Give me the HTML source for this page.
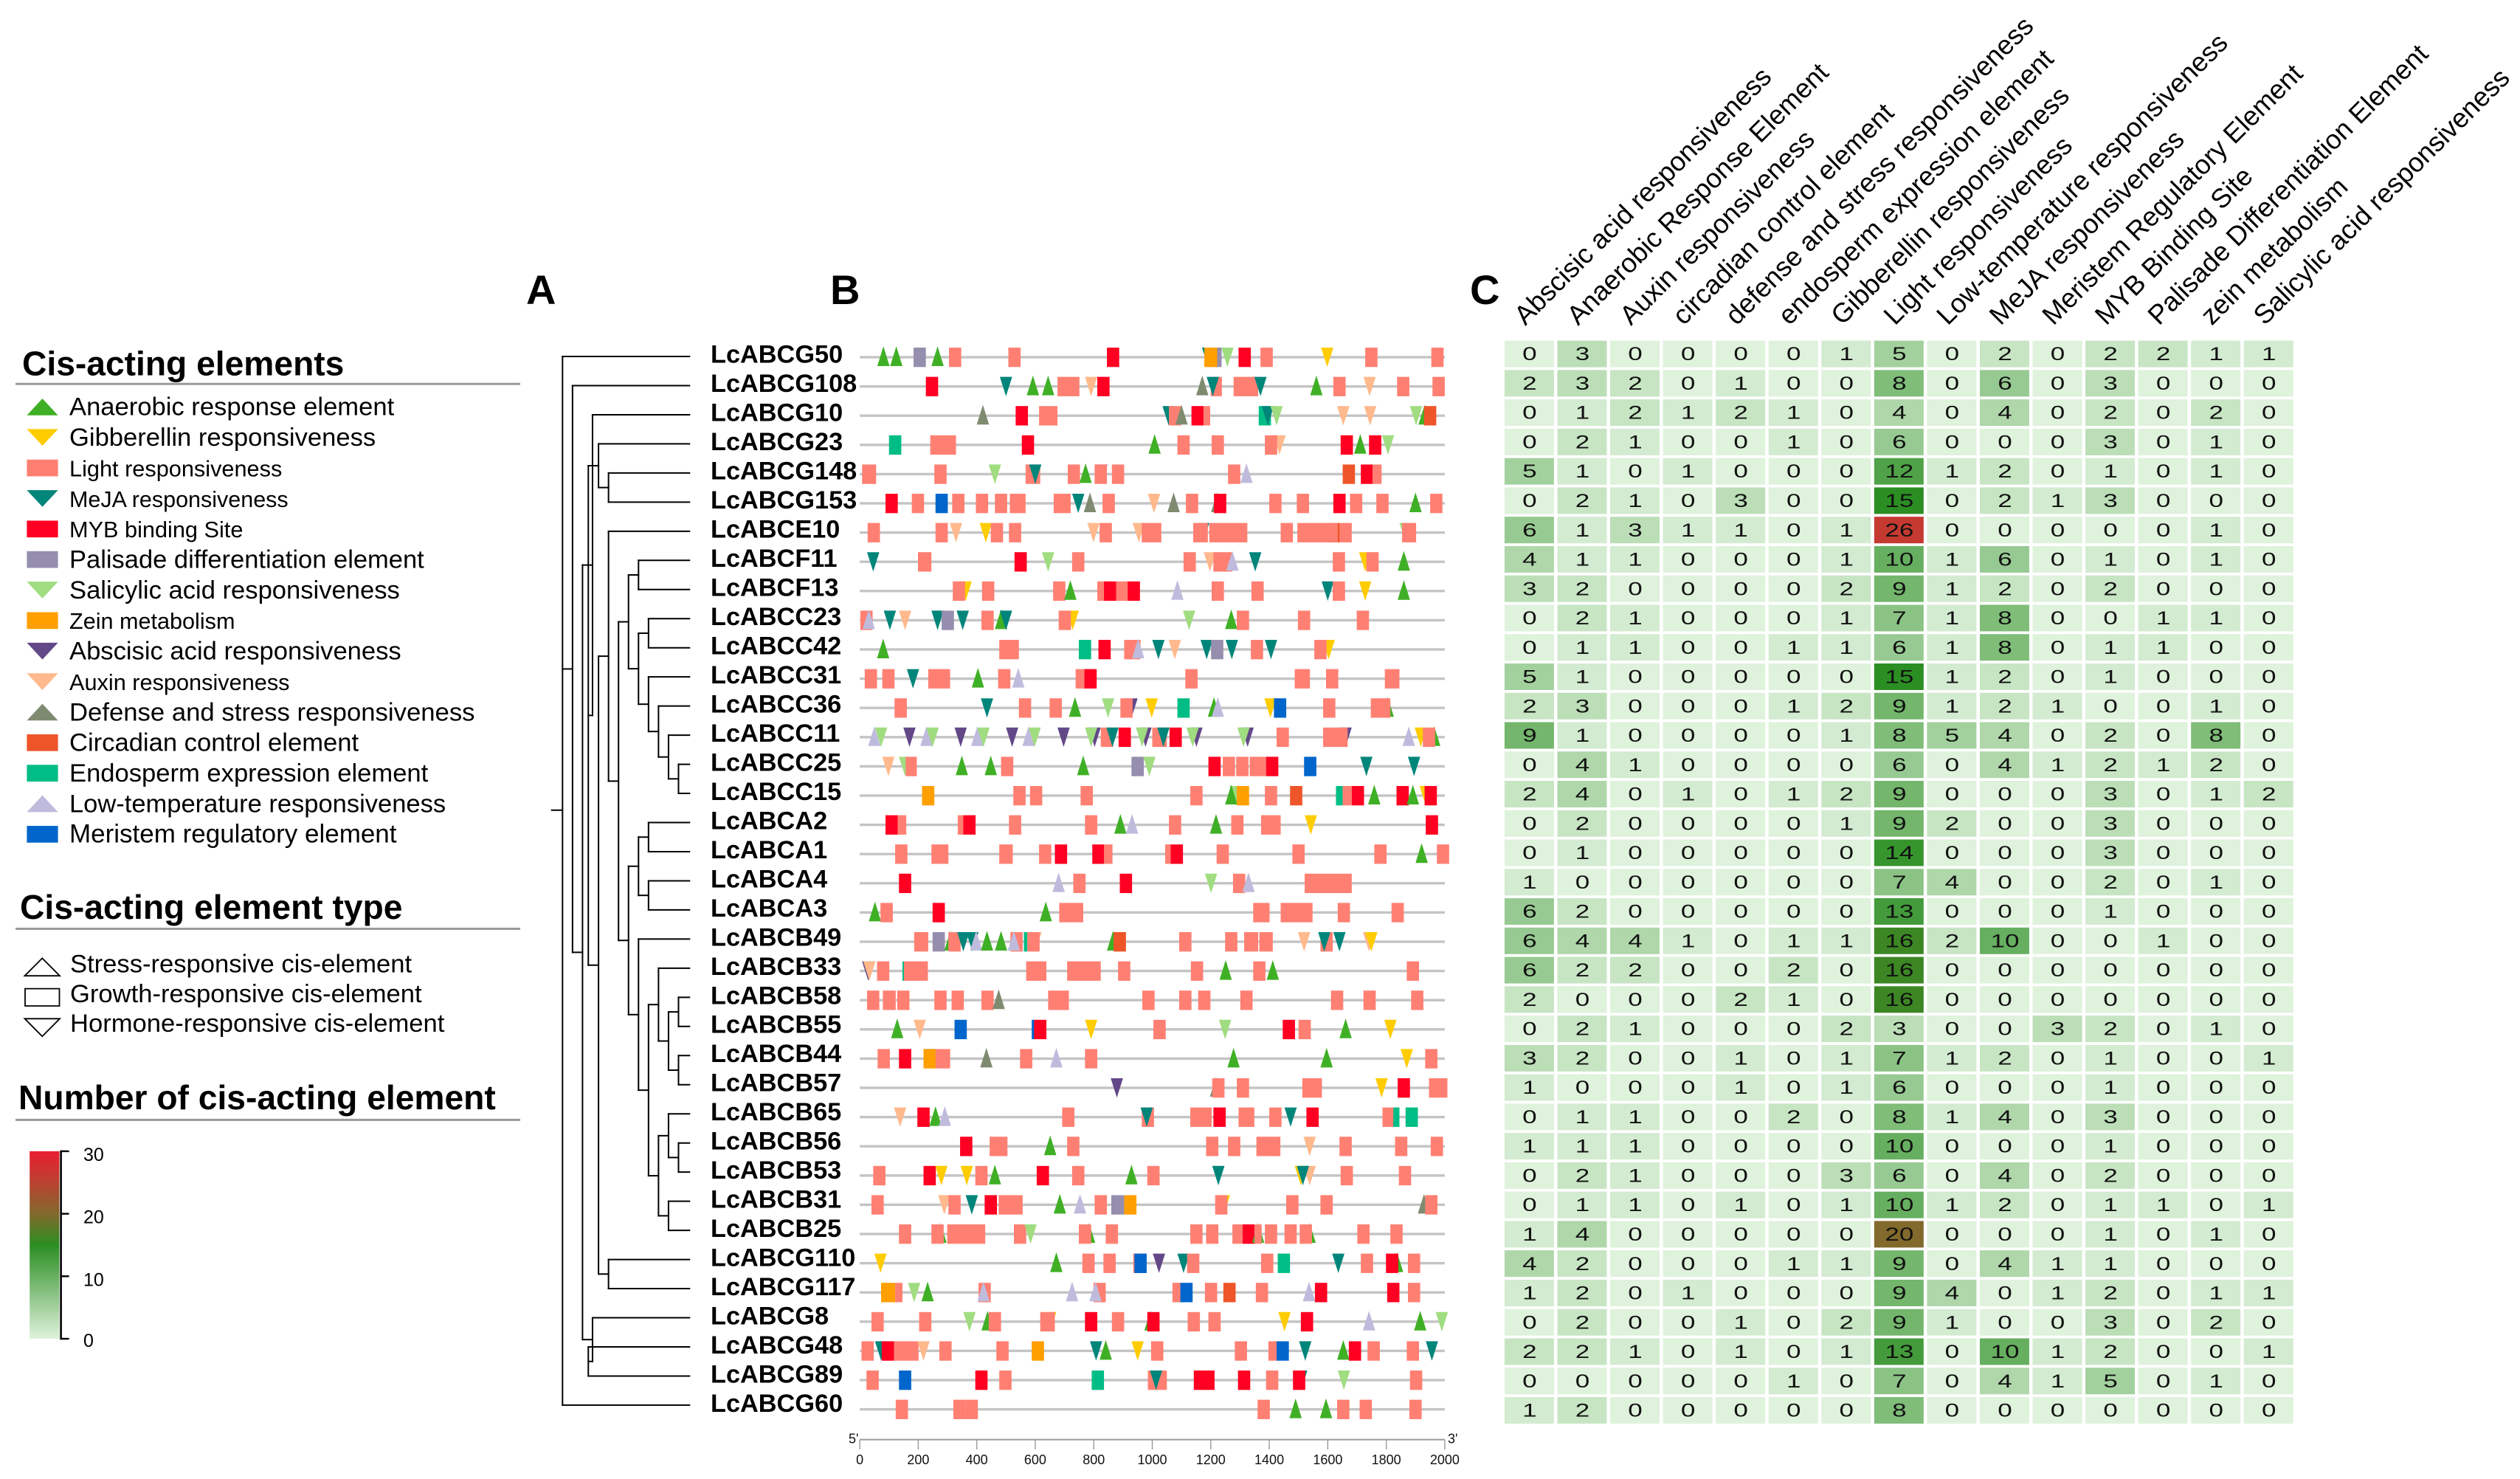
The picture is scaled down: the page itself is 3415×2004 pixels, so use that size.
<!DOCTYPE html>
<html lang="en">
<head>
<meta charset="utf-8">
<title>Cis-acting elements of LcABC genes</title>
<style>
html,body{margin:0;padding:0;background:#fff;}
svg{display:block;font-family:"Liberation Sans",Arial,sans-serif;}
</style>
</head>
<body>
<svg id="figure" xmlns="http://www.w3.org/2000/svg" width="3415" height="2004" viewBox="0 0 3415 2004">
<rect x="0" y="0" width="3415" height="2004" fill="#ffffff"/>
<defs><linearGradient id="scaleGrad" x1="0" y1="1" x2="0" y2="0"></linearGradient></defs>
</svg>
<script>
// ---------- Data ----------
const geneNames = ["LcABCG50","LcABCG108","LcABCG10","LcABCG23","LcABCG148","LcABCG153","LcABCE10","LcABCF11","LcABCF13","LcABCC23","LcABCC42","LcABCC31","LcABCC36","LcABCC11","LcABCC25","LcABCC15","LcABCA2","LcABCA1","LcABCA4","LcABCA3","LcABCB49","LcABCB33","LcABCB58","LcABCB55","LcABCB44","LcABCB57","LcABCB65","LcABCB56","LcABCB53","LcABCB31","LcABCB25","LcABCG110","LcABCG117","LcABCG8","LcABCG48","LcABCG89","LcABCG60"];

const columnLabels = ["Abscisic acid responsiveness","Anaerobic Response Element","Auxin responsiveness","circadian control element","defense and stress responsiveness","endosperm expression element","Gibberellin responsiveness","Light responsiveness","Low-temperature responsiveness","MeJA responsiveness","Meristem Regulatory Element","MYB Binding Site","Palisade Differentiation Element","zein metabolism","Salicylic acid responsiveness"];

const heatValues = [
[0,3,0,0,0,0,1,5,0,2,0,2,2,1,1],
[2,3,2,0,1,0,0,8,0,6,0,3,0,0,0],
[0,1,2,1,2,1,0,4,0,4,0,2,0,2,0],
[0,2,1,0,0,1,0,6,0,0,0,3,0,1,0],
[5,1,0,1,0,0,0,12,1,2,0,1,0,1,0],
[0,2,1,0,3,0,0,15,0,2,1,3,0,0,0],
[6,1,3,1,1,0,1,26,0,0,0,0,0,1,0],
[4,1,1,0,0,0,1,10,1,6,0,1,0,1,0],
[3,2,0,0,0,0,2,9,1,2,0,2,0,0,0],
[0,2,1,0,0,0,1,7,1,8,0,0,1,1,0],
[0,1,1,0,0,1,1,6,1,8,0,1,1,0,0],
[5,1,0,0,0,0,0,15,1,2,0,1,0,0,0],
[2,3,0,0,0,1,2,9,1,2,1,0,0,1,0],
[9,1,0,0,0,0,1,8,5,4,0,2,0,8,0],
[0,4,1,0,0,0,0,6,0,4,1,2,1,2,0],
[2,4,0,1,0,1,2,9,0,0,0,3,0,1,2],
[0,2,0,0,0,0,1,9,2,0,0,3,0,0,0],
[0,1,0,0,0,0,0,14,0,0,0,3,0,0,0],
[1,0,0,0,0,0,0,7,4,0,0,2,0,1,0],
[6,2,0,0,0,0,0,13,0,0,0,1,0,0,0],
[6,4,4,1,0,1,1,16,2,10,0,0,1,0,0],
[6,2,2,0,0,2,0,16,0,0,0,0,0,0,0],
[2,0,0,0,2,1,0,16,0,0,0,0,0,0,0],
[0,2,1,0,0,0,2,3,0,0,3,2,0,1,0],
[3,2,0,0,1,0,1,7,1,2,0,1,0,0,1],
[1,0,0,0,1,0,1,6,0,0,0,1,0,0,0],
[0,1,1,0,0,2,0,8,1,4,0,3,0,0,0],
[1,1,1,0,0,0,0,10,0,0,0,1,0,0,0],
[0,2,1,0,0,0,3,6,0,4,0,2,0,0,0],
[0,1,1,0,1,0,1,10,1,2,0,1,1,0,1],
[1,4,0,0,0,0,0,20,0,0,0,1,0,1,0],
[4,2,0,0,0,1,1,9,0,4,1,1,0,0,0],
[1,2,0,1,0,0,0,9,4,0,1,2,0,1,1],
[0,2,0,0,1,0,2,9,1,0,0,3,0,2,0],
[2,2,1,0,1,0,1,13,0,10,1,2,0,0,1],
[0,0,0,0,0,1,0,7,0,4,1,5,0,1,0],
[1,2,0,0,0,0,0,8,0,0,0,0,0,0,0]
];

const scaleValues = [0,15,20,26,30];
const scaleColors = ["#dff2dc","#2b8e22","#82692c","#c43a30","#e81e30"];
const scaleTicks = [0,10,20,30];
const rulerTicks = [0,200,400,600,800,1000,1200,1400,1600,1800,2000];

// Motif entries: [type code, start in bp, length in bp (default 42)]
const rowG50=[['A',60],['A',104],['P',184],['A',245],['L',305],['L',508],['M',845],['J',1170],['P',1195],['Z',1178,44],['S',1236],['M',1295],['L',1370],['G',1577],['L',1728],['L',1954]];
const rowG108=[['M',226],['J',479],['A',571],['A',623],['L',676,75],['X',770],['M',812],['D',1150],['L',1200,38],['J',1186],['L',1278,84],['J',1349],['A',1540],['L',1619],['X',1722],['L',1837],['L',1958]];
const rowG10=[['D',400],['M',533],['L',613,63],['J',1035],['L',1057],['D',1079],['M',1134],['L',1175,23],['E',1364],['J',1374],['S',1404],['X',1632],['X',1724],['S',1881],['A',1910],['C',1929]];
const rowG23=[['E',100],['L',241,88],['M',554],['A',987],['L',1086],['L',1203],['X',1414],['L',1385],['M',1644],['A',1690],['M',1741],['S',1785]];
const rowG148=[['L',8,48],['L',255],['S',441],['L',567,50],['J',579],['L',711],['A',751],['B',805],['L',803],['L',862],['L',1259],['T',1301],['C',1651],['M',1713],['L',1753,31]];
const rowG153=[['M',88],['L',178],['R',259],['L',316],['L',397],['L',462],['L',513,54],['L',663,58],['J',726],['D',766],['L',830],['X',985],['D',1052],['L',1115],['D',1201],['M',1211],['L',1400],['L',1494],['M',1619],['L',1676],['L',1766],['A',1879],['L',1950]];
const rowE10=[['L',27],['L',259],['X',308],['G',410],['L',448],['L',510],['X',778],['L',820],['X',933],['L',964,67],['J',1153],['L',1140,50],['L',1195,130],['L',1439],['C',1600],['L',1496,138],['L',1640],['S',1845],['L',1854,48]];
const rowF11=[['J',25],['L',199,46],['M',529],['S',623],['L',726],['L',1107],['X',1176],['L',1209,65],['T',1253],['J',1331],['L',1617],['G',1707],['L',1732],['A',1839]];
const rowF13=[['G',341],['L',318],['L',418],['L',661],['A',699],['L',812],['M',835],['L',877],['M',916],['T',1065],['L',1203],['L',1339],['J',1579],['L',1617],['G',1707],['A',1839]];
const rowC23=[['L',2],['T',10],['J',82],['X',134],['J',245],['P',280],['J',331],['L',416],['A',462],['J',479],['G',707],['L',680],['S',1105],['A',1249],['L',1289],['L',1498],['L',1699]];
const rowC42=[['A',59],['L',477,67],['E',749],['M',816],['L',904,56],['T',931],['J',1000],['X',1056],['J',1165],['P',1201],['J',1251],['L',1337],['J',1385],['G',1582],['L',1554]];
const rowC31=[['L',17],['L',77],['J',161],['L',234,75],['A',383],['L',473],['T',521],['L',738],['M',768],['L',1113],['L',1487,52],['L',1594],['L',1795,50]];
const rowC36=[['L',119],['J',414],['L',544],['L',649],['A',715],['S',828],['B',908],['L',891],['G',977],['E',1086],['A',1190],['T',1203],['G',1383],['R',1416],['L',1584],['A',1784],['L',1747,67]];
const rowC11=[['T',29],['S',52],['B',149],['T',207],['S',228],['B',324],['T',381],['S',402],['B',500],['T',556],['S',577],['B',676],['B',782],['S',770],['L',824],['J',843],['M',885],['B',956],['S',944],['L',1000,50],['J',1017],['M',1059],['B',1130],['S',1117],['B',1305],['S',1291],['L',1425],['B',1640],['L',1584,84],['T',1856],['G',1897],['A',1943],['L',1925]];
const rowC25=[['X',77],['S',134],['L',157,38],['A',328],['A',427],['L',483],['A',743],['P',929],['S',969],['M',1192],['L',1241],['L',1287],['L',1333,56],['M',1389],['R',1519],['J',1711],['J',1874]];
const rowC15=[['Z',213],['L',525],['L',582],['L',755],['L',1130],['S',1264],['A',1249],['Z',1289],['L',1385],['C',1471],['E',1628,23],['L',1651,31],['M',1682],['A',1738],['M',1835],['A',1870],['G',1914],['M',1931]];
const rowA2=[['M',88],['L',130,29],['L',335,20],['M',354],['L',510],['L',770],['A',870],['T',910],['L',1057],['A',1197],['L',1270],['L',1372,67],['G',1521],['M',1935]];
const rowA1=[['L',121],['L',245,58],['L',477,46],['L',613],['M',667],['M',795],['L',835,29],['L',1044,20],['M',1063],['L',1220],['L',1479],['L',1759],['A',1900],['L',1973]];
const rowA4=[['M',134],['T',659],['L',730],['M',889],['S',1180],['L',1276],['T',1308],['L',1521,161]];
const rowA3=[['A',31],['L',71],['M',249],['A',615],['L',682],['L',722],['L',1345,56],['L',1439,109],['L',1634],['L',1818]];
const rowB49=[['L',186,48],['P',249],['A',289],['L',303],['J',333],['J',364],['T',377],['A',414],['A',462],['L',515],['T',506],['X',580],['E',561,12],['L',573],['A',845],['C',868],['L',1092],['L',1249],['L',1314,48],['L',1366,46],['X',1498],['L',1575],['J',1567],['J',1619],['X',1720],['G',1728]];
const rowB33=[['B',8],['X',12],['L',59],['E',146,6],['L',151,82],['L',569,69],['L',709,115],['L',883],['L',1132],['A',1230],['L',1345],['A',1391],['L',1870]];
const rowB58=[['L',25],['L',79,44],['L',128],['L',255],['L',314],['L',416],['D',454],['L',644,71],['L',966],['L',1092],['L',1157],['L',1301],['L',1611],['L',1722],['L',1885]];
const rowB55=[['A',107],['X',184],['R',324],['R',588,10],['M',596],['G',770],['L',1004],['S',1228],['M',1446],['L',1500],['A',1640],['G',1793]];
const rowB44=[['L',61],['M',134],['J',220],['Z',218],['L',259,50],['D',412],['L',548],['T',651],['L',770],['A',1257],['A',1575],['G',1849],['L',1933]];
const rowB57=[['B',858],['D',1197],['L',1205],['L',1289],['L',1513,67],['G',1763],['M',1839],['L',1946,63]];
const rowB65=[['X',117],['M',197],['A',238],['T',270],['L',692],['L',964],['J',960],['L',1130,73],['M',1209],['L',1295,54],['L',1400],['J',1452],['M',1527],['L',1787],['E',1824,21],['E',1866]];
const rowB56=[['M',343],['L',444,61],['A',630],['L',709],['L',1184],['L',1259],['L',1356,82],['X',1517],['L',1640],['L',1830],['L',1952]];
const rowB53=[['L',46],['M',218],['G',258],['G',345],['L',395],['A',441],['M',605],['L',726],['A',908],['L',983],['J',1205],['G',1487],['X',1517],['J',1494],['L',1644],['L',1843]];
const rowB31=[['L',40],['X',268],['L',303],['J',362],['M',427],['L',475,82],['A',663],['T',732],['L',803],['P',860,44],['Z',904],['G',1224],['L',1215],['L',1458],['L',1575],['D',1908],['L',1933]];
const rowB25=[['L',134],['A',255],['L',245],['L',299,130],['L',527],['S',563],['A',763],['L',749],['L',841],['L',1130],['L',1184],['L',1274,33],['M',1308],['A',1341],['L',1349,25],['L',1385],['A',1517],['L',1452],['L',1504],['L',1701],['L',1814]];
const rowG110=[['G',50],['A',651],['L',761],['L',833],['L',935],['R',939],['B',1002],['J',1086],['L',1119],['L',1372],['E',1429],['J',1615],['L',1713],['A',1816],['M',1799],['L',1874]];
const rowG117=[['Z',73,48],['L',121,25],['S',165],['A',211],['L',406],['T',402],['T',705],['L',799],['T',785],['L',1069,29],['R',1096],['L',1180],['C',1243],['L',1354],['T',1515],['M',1556],['M',1803],['L',1874]];
const rowG8=[['L',40],['L',203],['S',354],['A',416],['L',441],['G',630],['L',617,50],['M',770],['L',862],['A',973],['M',983],['L',1121],['L',1192],['G',1431],['M',1508],['T',1720],['A',1895],['S',1969]];
const rowG48=[['L',6],['J',52],['M',75],['L',117,84],['X',197],['L',272],['L',467],['Z',588],['J',787],['A',820],['G',929],['L',996],['L',1282],['L',1397,29],['R',1425],['J',1502],['A',1632],['M',1672],['L',1736],['L',1870],['J',1935]];
const rowG89=[['L',23],['R',134],['M',395],['L',477],['E',793],['L',985,65],['J',992],['M',1142,71],['M',1293],['L',1389],['J',1488],['M',1481],['S',1634],['L',1881]];
const rowG60=[['L',123],['L',320],['L',362],['L',1360],['A',1469],['A',1573],['L',1632],['L',1709],['L',1879]];
const motifRows=[rowG50,rowG108,rowG10,rowG23,rowG148,rowG153,rowE10,rowF11,rowF13,rowC23,rowC42,rowC31,rowC36,rowC11,rowC25,rowC15,rowA2,rowA1,rowA4,rowA3,rowB49,rowB33,rowB58,rowB55,rowB44,rowB57,rowB65,rowB56,rowB53,rowB31,rowB25,rowG110,rowG117,rowG8,rowG48,rowG89,rowG60];

// Tree: [branch depth, child, child, ...]; a number child is an index into geneNames
const cladeA=[3.6,3,[4.6,4,5]];
const cladeF=[7.6,7,8];
const cladeC=[7.6,[8.6,9,10],[8.6,11,[9.6,12,[10.6,13,[11.6,14,15]]]]];
const cladeCF=[6.6,cladeF,cladeC];
const cladeABCA=[7.6,[8.6,16,17],[8.6,18,19]];
const cladeB1=[9.6,21,[10.6,[11.6,22,23],[11.6,24,25]]];
const cladeB2=[9.6,[10.6,26,[11.6,27,28]],[10.6,29,30]];
const cladeB=[6.6,cladeABCA,[7.6,20,[8.6,cladeB1,cladeB2]]];
const cladeBig=[3.6,[4.6,6,[5.6,cladeCF,cladeB]],[4.6,31,32]];
const cladeLeft=[3,2,[2.58,cladeA,cladeBig]];
const cladeRight=[3,33,[2.58,34,35]];
const treeRoot=[0,0,[1,1,[2,cladeLeft,cladeRight]],36];

// Legend text and type codes
const motifCodes=['A','G','L','J','M','P','S','Z','B','X','D','C','E','T','R'];
const motifLabels=["Anaerobic response element","Gibberellin responsiveness","Light responsiveness","MeJA responsiveness","MYB binding Site","Palisade differentiation element","Salicylic acid responsiveness","Zein metabolism","Abscisic acid responsiveness","Auxin responsiveness","Defense and stress responsiveness","Circadian control element","Endosperm expression element","Low-temperature responsiveness","Meristem regulatory element"];
const motifLabelSizes=[34.6,34.6,30.7,30.5,30.7,34.5,34.6,30.6,34.6,30.7,34.7,34.6,34.6,34.5,35];
const motifColors={A:'#3fb025',G:'#ffcc00',L:'#ff8073',J:'#00857a',M:'#ff0022',P:'#958eae',S:'#a0dc80',Z:'#ff9f00',B:'#634888',X:'#ffb98c',D:'#7f8b70',C:'#ee5528',E:'#00bd85',T:'#bfbbdd',R:'#0066cc'};
const motifShapes={A:'up',G:'down',L:'rect',J:'down',M:'rect',P:'rect',S:'down',Z:'rect',B:'down',X:'down',D:'up',C:'rect',E:'rect',T:'up',R:'rect'};
const typeLabels=["Stress-responsive cis-element","Growth-responsive cis-element","Hormone-responsive cis-element"];

// ---------- Axis functions ----------
const defaultLen=42;
const bpX=bp=>1165.1+bp*0.3964;
const rowY=i=>484+39.6*i;
const labelY=i=>491.7+39.48*i;
const tipY=i=>483+39.47*i;
const depthX=d=>762.3+13.55*d;
const tipX=934.3;
const heatX=c=>2038.9+71.56*c;
const heatY=r=>461.6+39.76*r;
const scaleY=v=>1814-(v/30)*254.1;

const NS='http://www.w3.org/2000/svg';
const svg=document.getElementById('figure');
function el(tag,attrs,parent,txt){
  const n=document.createElementNS(NS,tag);
  for(const k in attrs)n.setAttribute(k,attrs[k]);
  if(txt!==undefined)n.textContent=txt;
  (parent||svg).appendChild(n);
  return n;
}
function hexToRgb(h){return [1,3,5].map(i=>parseInt(h.substr(i,2),16));}
function heatColor(v){
  let i=0;
  while(i<scaleValues.length-2&&v>scaleValues[i+1])i++;
  const t=Math.min(1,(v-scaleValues[i])/(scaleValues[i+1]-scaleValues[i]));
  const a=hexToRgb(scaleColors[i]),b=hexToRgb(scaleColors[i+1]);
  return 'rgb('+a.map((x,k)=>Math.round(x+(b[k]-x)*t)).join(',')+')';
}
function section(name){
  const g=el('g',{});
  
  
  return g;
}
function triPoints(shape,x0,x1,y){
  if(shape==='up')return x0+','+(y+12)+' '+x1+','+(y+12)+' '+((x0+x1)/2)+','+(y-14.7);
  return x0+','+(y-13)+' '+x1+','+(y-13)+' '+((x0+x1)/2)+','+(y+13.3);
}

// ---------- Panel letters ----------
const panelG=section('panel-letters');
[['A',713],['B',1125],['C',1992]].forEach(function(p){
  const t=el('text',{x:p[1],y:412,'font-size':56,'font-weight':'bold',fill:'#000'},panelG,p[0]);
  
  
});

// ---------- Legends ----------
function legendTitle(g,text,x,base,lineY,name){
  const t=el('text',{x:x,y:base,'font-size':46.2,'font-weight':'bold',fill:'#000'},g,text);
  
  
  const r=el('rect',{x:21,y:lineY-1.5,width:684,height:3,fill:'#9a9a9a'},g);
  
  
}
const legendG=section('cis-elements-legend');
legendTitle(legendG,'Cis-acting elements',30,508.4,520.2,'cis-elements-legend');
motifCodes.forEach(function(code,i){
  const base=562.7+41.36*i;
  const g=el('g',{},legendG);
  
  
  const shape=motifShapes[code];
  let sw;
  if(shape==='rect'){
    sw=el('rect',{x:36.4,y:base-22.7,width:42.2,height:22.7,fill:motifColors[code]},g);
  }else if(shape==='up'){
    sw=el('polygon',{points:'36.4,'+base+' 78.6,'+base+' 57.5,'+(base-22.7),fill:motifColors[code]},g);
  }else{
    sw=el('polygon',{points:'36.4,'+(base-22.7)+' 78.6,'+(base-22.7)+' 57.5,'+base,fill:motifColors[code]},g);
  }
  
  
  const t=el('text',{x:94,y:base,'font-size':motifLabelSizes[i],fill:'#000'},g,motifLabels[i]);
  
  
});

const typeG=section('element-type-legend');
legendTitle(typeG,'Cis-acting element type',27,1245,1258.5,'element-type-legend');
[['M33.5,1322.2 H81 L57.2,1298.4 Z',1317.5],['M34,1339.6 H80.5 V1363 H34 Z',1357.8],['M33.5,1380.3 H81 L57.2,1404.2 Z',1398.1]].forEach(function(s,i){
  const p=el('path',{d:s[0],fill:'none',stroke:'#000','stroke-width':1.8},typeG);
  
  
  const t=el('text',{x:95,y:s[1],'font-size':34.6,fill:'#000'},typeG,typeLabels[i]);
  
  
});

const numG=section('color-scale-legend');
legendTitle(numG,'Number of cis-acting element',25,1503,1517.4,'color-scale-legend');
const grad=document.getElementById('scaleGrad');
scaleValues.forEach(function(v,i){
  el('stop',{offset:v/30,'stop-color':scaleColors[i]},grad);
});
const bar=el('rect',{x:40.2,y:scaleY(30),width:40.3,height:scaleY(0)-scaleY(30),fill:'url(#scaleGrad)'},numG);


const barAxis=el('line',{x1:82.6,x2:82.6,y1:scaleY(30)-1.2,y2:scaleY(0)+1.2,stroke:'#000','stroke-width':2.6},numG);


scaleTicks.forEach(function(v){
  const tk=el('line',{x1:82,x2:93.6,y1:scaleY(v),y2:scaleY(v),stroke:'#000','stroke-width':2.4},numG);
  
  
  const t=el('text',{x:113,y:scaleY(v)+(v===0?10.8:13),'font-size':25,fill:'#000'},numG,String(v));
  
  
});

// ---------- Tree ----------
const treeG=section('phylogenetic-tree');
function treeLine(x1,y1,x2,y2){
  const l=el('line',{x1:x1,y1:y1,x2:x2,y2:y2,stroke:'#000','stroke-width':2,'stroke-linecap':'square'},treeG);
  
  
}
function drawClade(node){
  const x=depthX(node[0]);
  const ys=[];
  for(let i=1;i<node.length;i++){
    const c=node[i];
    if(typeof c==='number'){
      const y=tipY(c);
      treeLine(x,y,tipX,y);
      ys.push(y);
    }else{
      const y=drawClade(c);
      treeLine(x,y,depthX(c[0]),y);
      ys.push(y);
    }
  }
  treeLine(x,Math.min.apply(null,ys),x,Math.max.apply(null,ys));
  return ys.reduce((a,b)=>a+b,0)/ys.length;
}
const rootY=drawClade(treeRoot);
treeLine(747.7,rootY,depthX(0),rootY);

// ---------- Gene labels and motif tracks ----------
const labelG=section('gene-labels');
const trackG=section('motif-tracks');
geneNames.forEach(function(name,i){
  const t=el('text',{x:963,y:labelY(i),'font-size':34.3,'font-weight':'bold',fill:'#000'},labelG,name);
  
  
  const y=rowY(i);
  const g=el('g',{},trackG);
  
  
  const base=el('rect',{x:bpX(0),y:y-1.7,width:bpX(2000)-bpX(0),height:3.4,fill:'#c4c4c4'},g);
  
  
  motifRows[i].forEach(function(m){
    const code=m[0];
    const x0=bpX(m[1]);
    const x1=bpX(m[1]+(m[2]===undefined?defaultLen:m[2]));
    const shape=motifShapes[code];
    let mark;
    if(shape==='rect'){
      mark=el('rect',{x:x0,y:y-13,width:x1-x0,height:26.3,fill:motifColors[code]},g);
    }else{
      mark=el('polygon',{points:triPoints(shape,x0,x1,y),fill:motifColors[code]},g);
    }
    
    
  });
});

// ---------- Ruler ----------
const rulerG=section('position-ruler');
const rulerLine=el('line',{x1:bpX(0),x2:bpX(2000),y1:1950.6,y2:1950.6,stroke:'#999','stroke-width':2},rulerG);


rulerTicks.forEach(function(v){
  const tk=el('line',{x1:bpX(v),x2:bpX(v),y1:1950.6,y2:1964,stroke:'#999','stroke-width':1.4},rulerG);
  
  
  const t=el('text',{x:bpX(v),y:1984,'font-size':18,fill:'#111','text-anchor':'middle'},rulerG,String(v));
  
  
});
const fivePrime=el('text',{x:1150,y:1955.4,'font-size':18,fill:'#111'},rulerG,"5'");


const threePrime=el('text',{x:1962,y:1955.4,'font-size':18,fill:'#111'},rulerG,"3'");



// ---------- Heatmap ----------
const heatG=section('element-count-heatmap');
columnLabels.forEach(function(label,c){
  const x=2067+71.56*c;
  const t=el('text',{transform:'translate('+x+',442) rotate(-45)','font-size':36.5,fill:'#000'},heatG,label);
  
  
});
heatValues.forEach(function(row,r){
  row.forEach(function(v,c){
    const cell=el('rect',{x:heatX(c),y:heatY(r),width:67,height:36,fill:heatColor(v)},heatG);
    
    
    const cx=heatX(c)+34, cy=heatY(r)+26.6;
    const t=el('text',{transform:'translate('+cx+','+cy+') scale(1.4,1)','font-size':25,fill:'#111','text-anchor':'middle'},heatG,String(v));
    
    
  });
});
</script>
</body>
</html>
